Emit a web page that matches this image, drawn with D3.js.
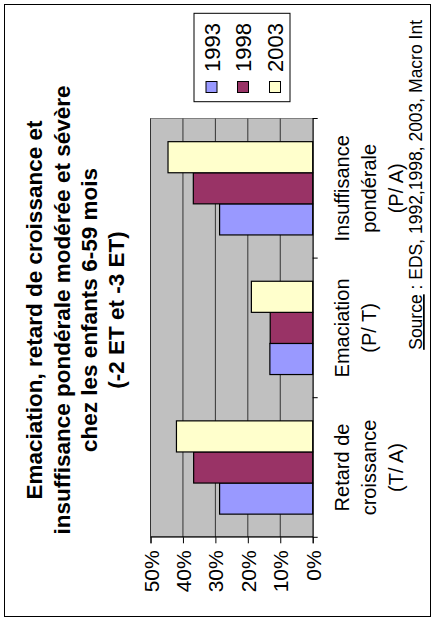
<!DOCTYPE html>
<html>
<head>
<meta charset="utf-8">
<script src="https://cdn.jsdelivr.net/npm/d3@7"></script>
<style>
  html, body { margin: 0; padding: 0; background: #fff; }
  svg { display: block; }
  text { font-family: "Liberation Sans", Arial, Helvetica, sans-serif; fill: #000; }
</style>
</head>
<body>
<svg id="chart" width="433" height="619"></svg>
<script>
// Categories (each label split over its lines)
const categories = ["Retard de croissance (T/ A)", "Emaciation (P/ T)", "Insuffisance pondérale (P/ A)"];
const categoryLines = [["Retard de", "croissance", "(T/ A)"], ["Emaciation", "(P/ T)"], ["Insuffisance", "pondérale", "(P/ A)"]];

// Survey years and their values (%)
const years = ["1993", "1998", "2003"];
const values1993 = [28.7, 13.2, 28.7];
const values1998 = [36.7, 13.1, 36.8];
const values2003 = [42.0, 18.9, 44.6];
const yearColors = ["#9999FF", "#993366", "#FFFFCC"];

// Value axis ticks (%)
const valueTicks = [0, 10, 20, 30, 40, 50];

const titleLines = [
  "Emaciation, retard de croissance et",
  "insuffisance pondérale modérée et sévère",
  "chez les enfants 6-59 mois",
  "(-2 ET et -3 ET)"
];
const sourceLabel = "Source";
const sourceRest = " : EDS, 1992,1998, 2003, Macro Int";

const series = [values1993, values1998, values2003];

// The chart is laid out in a 619 x 433 frame, then turned a quarter turn
// counter-clockwise to fit the portrait page.
const W = 619, H = 433;
const svg = d3.select("#chart");
const g = svg.append("g").attr("transform", `translate(0,${W}) rotate(-90)`);

// Outer frame
g.append("rect")
  .attr("x", 2.5).attr("y", 4.5)
  .attr("width", 612).attr("height", 426)
  .attr("fill", "#fff").attr("stroke", "#000").attr("stroke-width", 1);

const plot = { left: 81.7, right: 500.5, top: 150.5, bottom: 312.7 };

const x0 = d3.scaleBand().domain(categories).range([plot.left, plot.right]).padding(0);
const x1 = d3.scaleBand().domain(years).range([0, x0.bandwidth()]).paddingInner(0).paddingOuter(0.745);
const y = d3.scaleLinear().domain([0, 50]).range([plot.bottom, plot.top]);

// Plot area
g.append("rect")
  .attr("x", plot.left).attr("y", y(50))
  .attr("width", plot.right - plot.left).attr("height", y(0) - y(50))
  .attr("fill", "#C0C0C0").attr("stroke", "#808080").attr("stroke-width", 1);

// Gridlines
g.append("g").selectAll("line")
  .data(valueTicks.filter(d => d > 0))
  .join("line")
  .attr("x1", plot.left).attr("x2", plot.right)
  .attr("y1", d => y(d)).attr("y2", d => y(d))
  .attr("stroke", "#333").attr("stroke-width", 1);

// Bars
const groups = g.append("g").selectAll("g")
  .data(categories)
  .join("g")
  .attr("transform", d => `translate(${x0(d)},0)`);

groups.selectAll("rect")
  .data((c, i) => years.map((yr, k) => ({ yr, k, v: series[k][i] })))
  .join("rect")
  .attr("x", d => x1(d.yr))
  .attr("width", x1.bandwidth())
  .attr("y", d => y(d.v))
  .attr("height", d => y(0) - y(d.v))
  .attr("fill", d => yearColors[d.k])
  .attr("stroke", "#000").attr("stroke-width", 1.2);

// Value axis
const yAxis = d3.axisLeft(y).tickValues(valueTicks).tickFormat(d => d + "%").tickSize(6).tickPadding(7);
const ya = g.append("g").attr("transform", `translate(${plot.left},0)`).call(yAxis);
ya.select(".domain").attr("stroke", "#000");
ya.selectAll(".tick line").attr("stroke", "#000");
ya.selectAll(".tick text")
  .attr("font-size", 21).attr("font-family", null).attr("fill", "#000")
  .attr("dy", "0.36em");

// Category axis
const xAxis = d3.axisBottom(x0).tickSize(0).tickFormat("");
const xa = g.append("g").attr("transform", `translate(0,${plot.bottom})`).call(xAxis);
xa.select(".domain").attr("stroke", "#000");
const boundaries = [plot.left].concat(categories.map(c => x0(c) + x0.bandwidth()));
xa.selectAll(".boundary")
  .data(boundaries)
  .join("line")
  .attr("class", "boundary")
  .attr("x1", d => d).attr("x2", d => d)
  .attr("y1", 0).attr("y2", 5)
  .attr("stroke", "#000");

// Category labels (baselines)
const lineY = [349, 376, 403];
const catLabels = g.append("g").selectAll("text")
  .data(categories)
  .join("text")
  .attr("text-anchor", "middle")
  .attr("font-size", 20);
catLabels.selectAll("tspan")
  .data((c, i) => categoryLines[i].map((t, j) => ({ t, j, c })))
  .join("tspan")
  .attr("x", d => x0(d.c) + x0.bandwidth() / 2)
  .attr("y", d => lineY[d.j])
  .text(d => d.t);

// Title (baselines)
g.append("g").selectAll("text")
  .data(titleLines)
  .join("text")
  .attr("x", 309)
  .attr("y", (d, i) => [42, 70, 97, 124][i])
  .attr("text-anchor", "middle")
  .attr("font-size", 22.5)
  .attr("font-weight", "bold")
  .text(d => d);

// Legend
const legend = g.append("g");
legend.append("rect")
  .attr("x", 517.3).attr("y", 194)
  .attr("width", 88.4).attr("height", 96)
  .attr("fill", "#fff").attr("stroke", "#000").attr("stroke-width", 1);
const rows = legend.selectAll("g")
  .data(years)
  .join("g")
  .attr("transform", (d, i) => `translate(0,${[211.5, 243, 275][i]})`);
rows.append("rect")
  .attr("x", 526.5).attr("y", -5.5)
  .attr("width", 11).attr("height", 11)
  .attr("fill", (d, i) => yearColors[i])
  .attr("stroke", "#000").attr("stroke-width", 1);
rows.append("text")
  .attr("x", 547)
  .attr("y", 8)
  .attr("font-size", 22)
  .text(d => d);

// Source note
const src = g.append("text")
  .attr("x", 599).attr("y", 422)
  .attr("text-anchor", "end")
  .attr("font-size", 17.5);
src.append("tspan").attr("text-decoration", "underline").text(sourceLabel);
src.append("tspan").text(sourceRest);
</script>
</body>
</html>
